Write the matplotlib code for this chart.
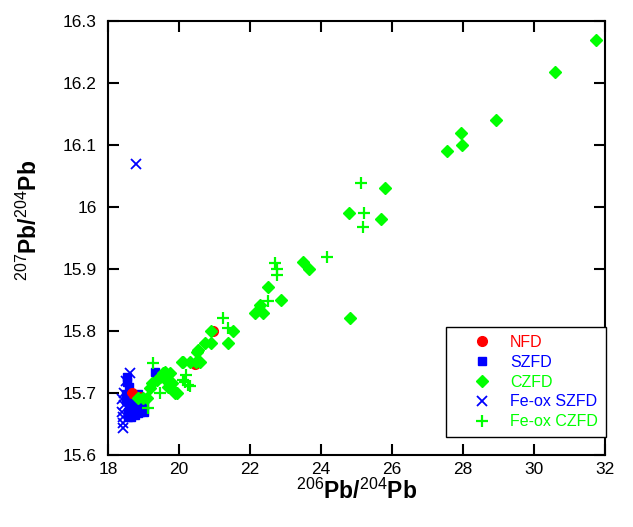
import matplotlib
matplotlib.use('Agg')
import matplotlib.pyplot as plt

plt.rcParams['font.family'] = ['Liberation Sans', 'DejaVu Sans']
plt.rcParams['mathtext.fontset'] = 'custom'
plt.rcParams['mathtext.rm'] = 'Liberation Sans'
plt.rcParams['mathtext.bf'] = 'Liberation Sans:bold'

# NFD
nfd_x = [18.68, 18.9, 20.45, 20.97]
nfd_y = [15.70, 15.694, 15.747, 15.80]

# SZFD
szfd_x = [18.53, 18.53, 18.5, 18.6, 18.7, 18.8, 18.9, 19.0, 18.5, 18.6, 18.7, 18.8, 18.9,
          19.0, 18.55, 18.65, 18.75, 18.85, 18.55, 18.65, 18.6, 18.85, 18.95, 19.32, 19.38]
szfd_y = [15.718, 15.726, 15.698, 15.698, 15.69, 15.69, 15.685, 15.68, 15.688, 15.68, 15.68,
          15.675, 15.67, 15.67, 15.67, 15.67, 15.665, 15.668, 15.662, 15.662, 15.71, 15.698,
          15.692, 15.734, 15.729]

# CZFD
czfd_x = [31.75, 30.59, 28.93, 27.94, 27.97, 27.55, 25.8, 24.79, 25.69, 24.82,
          23.49, 23.66, 22.51, 22.87, 22.28, 22.14, 22.37,
          21.52, 20.9, 21.38, 20.73, 20.9, 20.54, 20.5, 20.11, 20.48, 20.59, 20.08, 20.31,
          19.1, 19.18, 19.24, 19.46, 19.6, 19.75, 19.8, 19.89, 19.69, 19.66, 18.85, 18.99,
          19.38, 19.55, 19.83, 19.94]
czfd_y = [16.27, 16.218, 16.14, 16.12, 16.10, 16.09, 16.03, 15.99, 15.98, 15.821,
          15.911, 15.90, 15.871, 15.85, 15.842, 15.829, 15.829,
          15.80, 15.80, 15.781, 15.78, 15.78, 15.77, 15.766, 15.75, 15.75, 15.75, 15.75, 15.75,
          15.692, 15.708, 15.716, 15.726, 15.734, 15.732, 15.716, 15.70, 15.71, 15.72, 15.692,
          15.692, 15.721, 15.732, 15.705, 15.70]

# Fe-ox SZFD
feox_szfd_x = [18.79, 18.62, 18.42, 18.42, 18.42, 18.4, 18.45, 18.4, 18.45, 18.5]
feox_szfd_y = [16.07, 15.732, 15.644, 15.652, 15.661, 15.67, 15.68, 15.69, 15.70, 15.72]

# Fe-ox CZFD
feox_czfd_x = [25.13, 25.21, 25.18, 24.17, 22.7, 22.75, 22.75, 22.51, 21.24, 21.38,
               20.2, 20.11, 20.31, 20.17, 20.25, 19.27, 19.46, 19.13]
feox_czfd_y = [16.039, 15.99, 15.968, 15.919, 15.91, 15.90, 15.89, 15.848, 15.821, 15.805,
               15.729, 15.721, 15.711, 15.718, 15.713, 15.748, 15.70, 15.676]

red = '#ff0000'
blue = '#0000ff'
green = '#00ff00'

fig = plt.figure(figsize=(6.33, 5.27), dpi=100)
ax = fig.add_axes([108 / 633, 72 / 527, 497 / 633, 434 / 527])

h_sz, = ax.plot(szfd_x, szfd_y, 's', color=blue, ms=6, mec=blue, ls='none', label='SZFD')
h_nfd, = ax.plot(nfd_x, nfd_y, 'o', color=red, ms=7, mec=red, ls='none', label='NFD')
h_cz, = ax.plot(czfd_x, czfd_y, 'D', color=green, ms=6.5, mec=green, ls='none', label='CZFD')
h_fsz, = ax.plot(feox_szfd_x, feox_szfd_y, 'x', color=blue, ms=7, mew=1.3, ls='none',
                 label='Fe-ox SZFD')
h_fcz, = ax.plot(feox_czfd_x, feox_czfd_y, '+', color=green, ms=9, mew=1.6, ls='none',
                 label='Fe-ox CZFD')

ax.set_xlim(18, 32)
ax.set_ylim(15.6, 16.3)
ax.set_xticks([18, 20, 22, 24, 26, 28, 30, 32])
ax.set_yticks([15.6, 15.7, 15.8, 15.9, 16.0, 16.1, 16.2, 16.3])
ax.set_yticklabels(['15.6', '15.7', '15.8', '15.9', '16', '16.1', '16.2', '16.3'])
ax.tick_params(direction='in', length=8, width=1.5, labelsize=12.5,
               top=True, right=True)
ax.tick_params(axis='y', pad=8)
ax.tick_params(axis='x', pad=5)
for s in ax.spines.values():
    s.set_linewidth(1.5)

ax.set_xlabel(r'$^{206}\mathbf{Pb/}^{204}\mathbf{Pb}$', fontsize=16.5, labelpad=1)
ax.set_ylabel(r'$^{207}\mathbf{Pb/}^{204}\mathbf{Pb}$', fontsize=16.5)
ax.yaxis.set_label_coords(-0.133, 0.54)

leg = ax.legend(handles=[h_nfd, h_sz, h_cz, h_fsz, h_fcz], loc='lower right',
                bbox_to_anchor=(1.002, 0.041), borderaxespad=0, numpoints=1,
                fontsize=11.5, fancybox=False, framealpha=1, edgecolor='black',
                handlelength=3.5, handletextpad=0.0, borderpad=0.5, labelspacing=0.3)
leg.get_frame().set_linewidth(1.0)
for txt, c in zip(leg.get_texts(), [red, blue, green, blue, green]):
    txt.set_color(c)

fig.savefig('out.png', dpi=100)
